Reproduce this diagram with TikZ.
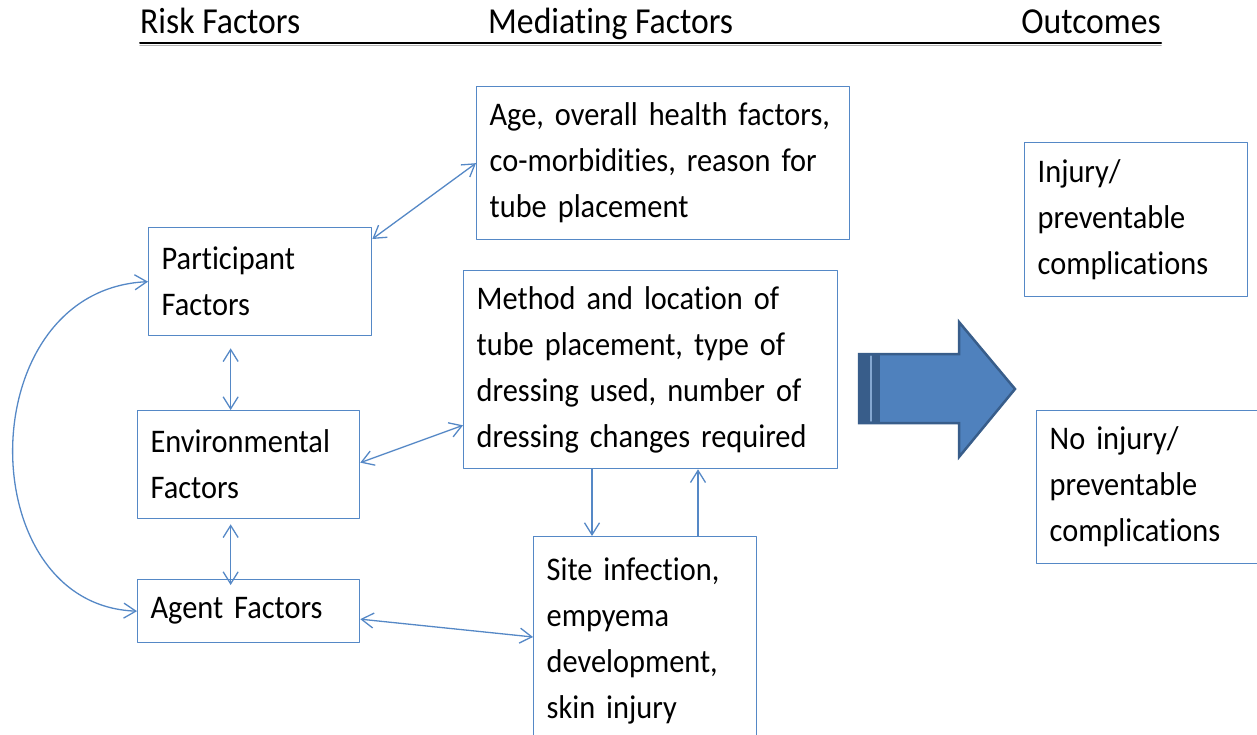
\documentclass[tikz,border=0pt]{standalone}
\usepackage{fontspec}
\setmainfont{Carlito}[FakeStretch=0.92,Ligatures={NoCommon,NoRequired,NoContextual},Contextuals=NoAlternate]
\usetikzlibrary{arrows.meta}
\definecolor{boxline}{RGB}{85,136,198}
\definecolor{arrowfill}{RGB}{79,129,189}
\definecolor{arrowedge}{RGB}{56,93,138}
\begin{document}
\begin{tikzpicture}[x=1pt,y=-1pt,line cap=round,line join=round,>={Straight Barb[length=12pt,width=15pt]},
	box/.style={draw=boxline,line width=1.3pt,anchor=north west,align=left,inner xsep=13pt,font=\fontsize{33}{46}\selectfont},
	head/.style={inner sep=0pt,font=\fontsize{36.6}{44}\selectfont},
	link/.style={boxline,line width=1.3pt}]
	\useasboundingbox (0,0) rectangle (1257,734);
	% column heads
	\node[head,anchor=base west] (risk) at (140,33) {Risk Factors};
	\node[head,anchor=base west] (medi) at (488,33) {Mediating Factors};
	\node[head,anchor=base east] (outc) at (1161,33) {Outcomes};
	\draw[gray!60,line width=1.5pt] (140,45.5)--(1161,45.5);
	\draw[line width=2pt] (140,43)--(1161,43);
	% boxes
	\node[box,text width=197pt,minimum height=108pt] (part) at (148,227) {Participant\\Factors};
	\node[box,text width=196pt,minimum height=108pt] (env) at (137,410) {Environmental\\Factors};
	\node[box,text width=196pt,minimum height=63pt] (agent) at (137,579) {Agent Factors};
	\node[box,text width=347pt,minimum height=153pt] (age) at (476,86) {Age, overall health factors,\\co-morbidities, reason for\\tube placement};
	\node[box,text width=348pt,minimum height=198pt] (meth) at (463,270) {Method and location of\\tube placement, type of\\dressing used, number of\\dressing changes required};
	\node[box,text width=197pt,minimum height=209pt] (site) at (533,536) {Site infection,\\empyema\\development,\\skin injury};
	\node[box,text width=197pt,minimum height=154pt] (inj) at (1024,142) {Injury/\\preventable\\complications};
	\node[box,text width=197pt,minimum height=153pt] (noinj) at (1036,410) {No injury/\\preventable\\complications};
	% links
	\draw[link,<->] ([shift={(0,12)}]part.north east)--(age.west);
	\draw[link,<->,shorten >=12pt] ([shift={(-18,0)}]env.north)--([shift={(-18,0)}]env.north |- part.south);
	\draw[link,<->] ([shift={(-18,5)}]env.south)--([shift={(-18,6)}]agent.north);
	\draw[link,<->] (part.west) .. controls (-30,290) and (-30,605) .. (agent.west);
	\draw[link,<->] ([shift={(0,-2)}]env.east)--([shift={(0,-44)}]meth.south west);
	\draw[link,<->] ([shift={(0,8)}]agent.east)--([shift={(0,101)}]site.north west);
	\draw[link,->] ([shift={(129,0)}]meth.south west)--([shift={(129,0)}]meth.south west |- site.north);
	\draw[link,->] ([shift={(235,0)}]meth.south west |- site.north)--([shift={(235,0)}]meth.south west);
	% big arrow
	\fill[arrowfill] (859,354)--(959,354)--(959,322)--(1015,389)--(959,457)--(959,423)--(859,423)--cycle;
	\fill[arrowedge] (859,354) rectangle (880,423);
	\draw[arrowfill!70!white,line width=1.5pt] (871,356)--(871,421);
	\draw[arrowedge,line width=2.5pt,line join=miter] (859,354)--(959,354)--(959,322)--(1015,389)--(959,457)--(959,423)--(859,423)--cycle;
\end{tikzpicture}
\end{document}
